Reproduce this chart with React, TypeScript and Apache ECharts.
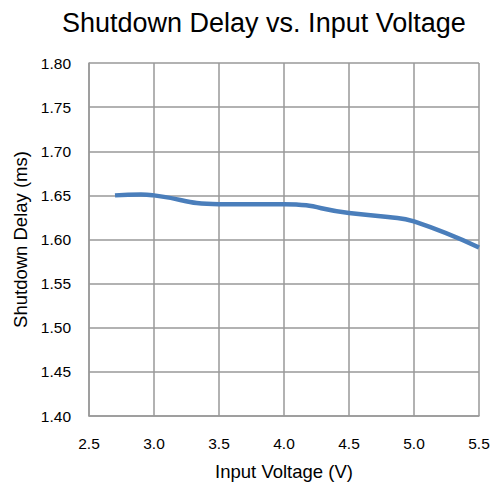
import React, { useEffect, useRef } from "react";
import * as echarts from "echarts";

const voltage = [2.7, 2.9, 3.0, 3.5, 4.0, 4.5, 4.8, 5.0, 5.5];
const delay = [1.65, 1.651, 1.65, 1.64, 1.64, 1.63, 1.6255, 1.6205, 1.591];

const FONT = "'Liberation Sans', Arial, sans-serif";

export default function App() {
  const ref = useRef<HTMLDivElement>(null);
  useEffect(() => {
    const chart = echarts.init(ref.current!, null, { renderer: "svg" });
    chart.setOption({
      animation: false,
      backgroundColor: "#fff",
      title: {
        text: "Shutdown Delay vs. Input Voltage",
        left: 57,
        top: 4,
        textStyle: { fontFamily: FONT, fontSize: 27, fontWeight: "normal", color: "#000" },
      },
      grid: { left: 89, right: 16, top: 63, bottom: 70, containLabel: false },
      xAxis: {
        type: "value",
        min: 2.5,
        max: 5.5,
        interval: 0.5,
        name: "Input Voltage (V)",
        nameLocation: "middle",
        nameGap: 46,
        nameTextStyle: { fontFamily: FONT, fontSize: 18.5, color: "#000" },
        axisLine: { show: true, lineStyle: { color: "#999", width: 1.5 } },
        axisTick: { show: false },
        axisLabel: {
          formatter: (v: number) => v.toFixed(1),
          fontFamily: FONT,
          fontSize: 15.5,
          color: "#000",
          margin: 19,
        },
        splitLine: { show: true, lineStyle: { color: "#999", width: 1.5 } },
      },
      yAxis: {
        type: "value",
        min: 1.4,
        max: 1.8,
        interval: 0.05,
        name: "Shutdown Delay (ms)",
        nameLocation: "middle",
        nameGap: 59,
        nameTextStyle: { fontFamily: FONT, fontSize: 18.5, color: "#000" },
        axisLine: { show: true, lineStyle: { color: "#999", width: 1.5 } },
        axisTick: { show: false },
        axisLabel: {
          formatter: (v: number) => v.toFixed(2),
          fontFamily: FONT,
          fontSize: 15.5,
          color: "#000",
          margin: 18,
        },
        splitLine: { show: true, lineStyle: { color: "#999", width: 1.5 } },
      },
      series: [
        {
          type: "line",
          data: voltage.map((v, i) => [v, delay[i]]),
          smooth: 0.5,
          showSymbol: false,
          lineStyle: { color: "#4a7ebb", width: 4.5 },
        },
      ],
    });
    return () => chart.dispose();
  }, []);
  return (
    <div
      ref={ref}
      style={{ position: "absolute", left: 0, top: 0, width: 495, height: 486 }}
    />
  );
}
